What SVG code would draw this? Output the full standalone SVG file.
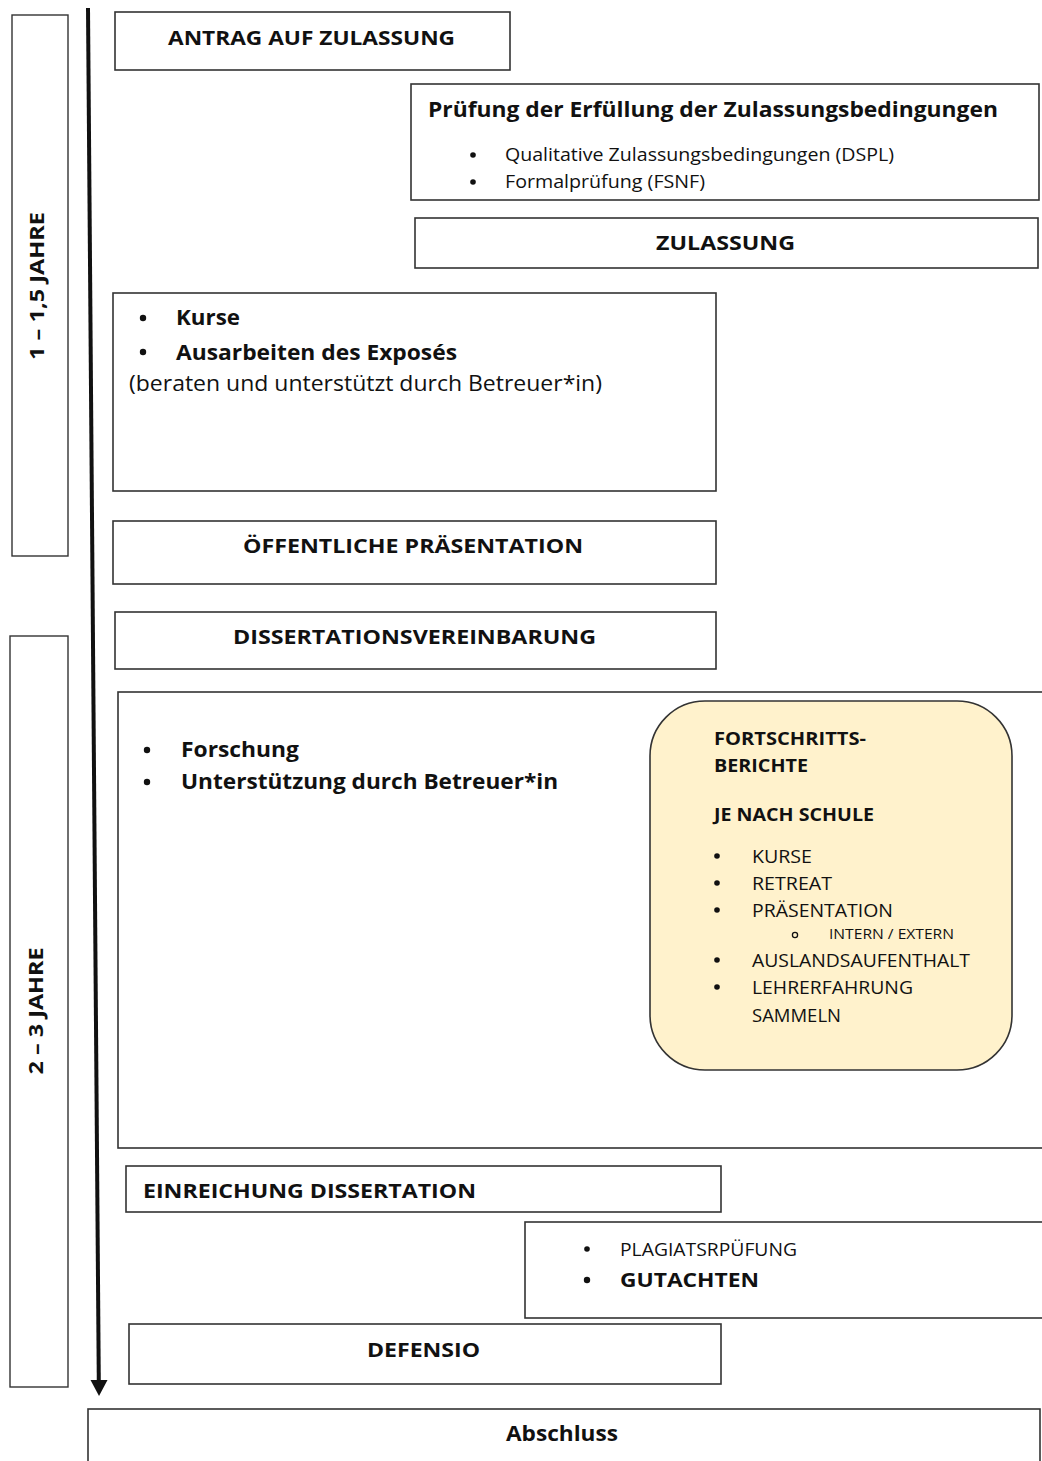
<svg xmlns="http://www.w3.org/2000/svg" width="1042" height="1461" viewBox="0 0 1042 1461">
<style>
.box{fill:#fff;stroke:#333;stroke-width:1.6}
.bar{fill:#fff;stroke:#333;stroke-width:1.4}
.note{fill:#fff2cc;stroke:#333;stroke-width:1.6}
text{font-family:"Open Sans","Liberation Sans",sans-serif;fill:#111}
.b{font-weight:700}
.h{font-size:20px;font-weight:700}
.n{font-size:18px}
.dot{fill:#111}
</style>
<rect width="1042" height="1461" fill="#fff"/>
<g id="bar-phase1"><rect class="bar" x="12" y="15" width="56" height="541"/>
<text class="h" transform="translate(44,286) rotate(-90)" text-anchor="middle" textLength="148" lengthAdjust="spacingAndGlyphs">1 – 1,5  JAHRE</text></g>
<g id="bar-phase2"><rect class="bar" x="10" y="636" width="58" height="751"/>
<text class="h" transform="translate(43,1011) rotate(-90)" text-anchor="middle" textLength="127" lengthAdjust="spacingAndGlyphs">2 – 3 JAHRE</text></g>
<g id="connectors">
<line x1="88" y1="8" x2="98.8" y2="1382" stroke="#111" stroke-width="4"/>
<polygon points="90.5,1380 107.5,1380 99,1396" fill="#111"/>
</g>
<g id="antrag"><rect class="box" x="115" y="12" width="395" height="58"/>
<text class="h" x="168" y="45" textLength="287" lengthAdjust="spacingAndGlyphs">ANTRAG AUF ZULASSUNG</text></g>
<g id="pruefung"><rect class="box" x="411" y="84" width="628" height="116"/>
<text class="b" x="428" y="117" font-size="21" textLength="570" lengthAdjust="spacingAndGlyphs">Prüfung der Erfüllung der Zulassungsbedingungen</text>
<circle class="dot" cx="473" cy="155" r="2.8"/><text class="n" x="505" y="161" textLength="389" lengthAdjust="spacingAndGlyphs">Qualitative Zulassungsbedingungen (DSPL)</text>
<circle class="dot" cx="473" cy="182" r="2.8"/><text class="n" x="505" y="188" textLength="200" lengthAdjust="spacingAndGlyphs">Formalprüfung (FSNF)</text></g>
<g id="zulassung"><rect class="box" x="415" y="218" width="623" height="50"/>
<text class="h" x="656" y="250" textLength="139" lengthAdjust="spacingAndGlyphs">ZULASSUNG</text></g>
<g id="kurse"><rect class="box" x="113" y="293" width="603" height="198"/>
<circle class="dot" cx="143" cy="318" r="3.2"/><text class="b" x="176" y="325" font-size="22" textLength="64" lengthAdjust="spacingAndGlyphs">Kurse</text>
<circle class="dot" cx="143" cy="352" r="3.2"/><text class="b" x="176" y="360" font-size="22" textLength="281" lengthAdjust="spacingAndGlyphs">Ausarbeiten des Exposés</text>
<text x="129" y="391" font-size="21" textLength="473" lengthAdjust="spacingAndGlyphs">(beraten und unterstützt durch Betreuer*in)</text></g>
<g id="praesentation"><rect class="box" x="113" y="521" width="603" height="63"/>
<text class="h" x="243" y="553" textLength="340" lengthAdjust="spacingAndGlyphs">ÖFFENTLICHE PRÄSENTATION</text></g>
<g id="vereinbarung"><rect class="box" x="115" y="612" width="601" height="57"/>
<text class="h" x="233" y="644" textLength="363" lengthAdjust="spacingAndGlyphs">DISSERTATIONSVEREINBARUNG</text></g>
<g id="forschung"><rect class="box" x="118" y="692" width="940" height="456"/>
<circle class="dot" cx="147" cy="750" r="3.2"/><text class="b" x="181" y="757" font-size="21" textLength="118" lengthAdjust="spacingAndGlyphs">Forschung</text>
<circle class="dot" cx="147" cy="782" r="3.2"/><text class="b" x="181" y="789" font-size="21" textLength="377" lengthAdjust="spacingAndGlyphs">Unterstützung durch Betreuer*in</text></g>
<g id="fortschritt"><rect class="note" x="650" y="701" width="362" height="369" rx="55" ry="55"/>
<text class="b" x="714" y="745" font-size="17" textLength="152" lengthAdjust="spacingAndGlyphs">FORTSCHRITTS-</text>
<text class="b" x="714" y="772" font-size="17" textLength="94" lengthAdjust="spacingAndGlyphs">BERICHTE</text>
<text class="b" x="714" y="821" font-size="17" textLength="160" lengthAdjust="spacingAndGlyphs">JE NACH SCHULE</text>
<circle class="dot" cx="717" cy="856" r="2.8"/><text class="n" x="752" y="863" textLength="60" lengthAdjust="spacingAndGlyphs">KURSE</text>
<circle class="dot" cx="717" cy="883" r="2.8"/><text class="n" x="752" y="890" textLength="80" lengthAdjust="spacingAndGlyphs">RETREAT</text>
<circle class="dot" cx="717" cy="910" r="2.8"/><text class="n" x="752" y="917" textLength="141" lengthAdjust="spacingAndGlyphs">PRÄSENTATION</text>
<circle cx="795" cy="935" r="2.6" fill="none" stroke="#111" stroke-width="1.3"/><text x="829" y="939" font-size="15" textLength="125" lengthAdjust="spacingAndGlyphs">INTERN / EXTERN</text>
<circle class="dot" cx="717" cy="960" r="2.8"/><text class="n" x="752" y="967" textLength="218" lengthAdjust="spacingAndGlyphs">AUSLANDSAUFENTHALT</text>
<circle class="dot" cx="717" cy="987" r="2.8"/><text class="n" x="752" y="994" textLength="161" lengthAdjust="spacingAndGlyphs">LEHRERFAHRUNG</text>
<text class="n" x="752" y="1022" textLength="89" lengthAdjust="spacingAndGlyphs">SAMMELN</text></g>
<g id="einreichung"><rect class="box" x="126" y="1166" width="595" height="46"/>
<text class="h" x="143" y="1198" textLength="333" lengthAdjust="spacingAndGlyphs">EINREICHUNG DISSERTATION</text></g>
<g id="gutachten"><rect class="box" x="525" y="1222" width="530" height="96"/>
<circle class="dot" cx="587" cy="1249" r="2.8"/><text class="n" x="620" y="1256" textLength="177" lengthAdjust="spacingAndGlyphs">PLAGIATSRPÜFUNG</text>
<circle class="dot" cx="587" cy="1280" r="3.2"/><text class="h" x="620" y="1287" textLength="139" lengthAdjust="spacingAndGlyphs">GUTACHTEN</text></g>
<g id="defensio"><rect class="box" x="129" y="1324" width="592" height="60"/>
<text class="h" x="367" y="1357" textLength="113" lengthAdjust="spacingAndGlyphs">DEFENSIO</text></g>
<g id="abschluss"><rect class="box" x="88" y="1409" width="952" height="70"/>
<text class="b" x="506" y="1441" font-size="21" textLength="112" lengthAdjust="spacingAndGlyphs">Abschluss</text></g>
</svg>
